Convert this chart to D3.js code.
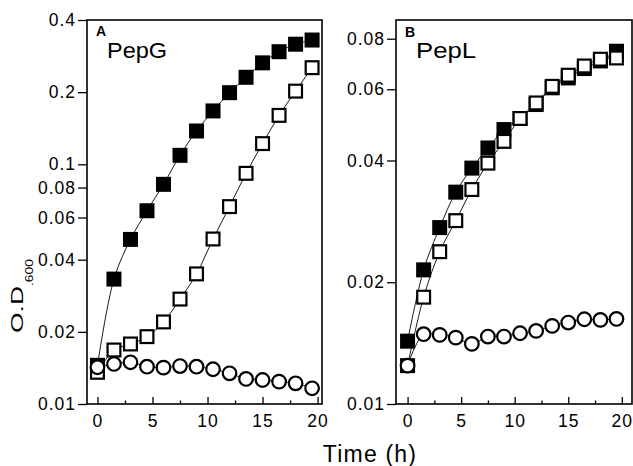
<!DOCTYPE html>
<html>
<head>
<meta charset="utf-8">
<script src="https://cdn.jsdelivr.net/npm/d3@7"></script>
<style>
  body { margin: 0; background: #fff; }
  svg { display: block; font-family: "Liberation Sans", Arial, sans-serif; }
  .axis text { font-size: 17.5px; letter-spacing: 1px; fill: #000; }
  .axis line { stroke: #000; stroke-width: 1.3; }
  .axis path { display: none; }
</style>
</head>
<body>
<svg width="633" height="466"></svg>
<script>
// sampling times (h)
const times = [0, 1.5, 3, 4.5, 6, 7.5, 9, 10.5, 12, 13.5, 15, 16.5, 18, 19.5];

// panel A - PepG
const pepGFilled = [0.0145, 0.0332, 0.0486, 0.064, 0.0825, 0.109, 0.1377, 0.167, 0.199, 0.2307, 0.265, 0.295, 0.317, 0.33];
const pepGOpen   = [0.01356, 0.0168, 0.0178, 0.0191, 0.022, 0.0274, 0.0349, 0.0488, 0.0666, 0.0917, 0.122, 0.16, 0.202, 0.253];
const pepGCircle = [0.01423, 0.01469, 0.01493, 0.01431, 0.01418, 0.0144, 0.01431, 0.01396, 0.01343, 0.01272, 0.01259, 0.0124, 0.0122, 0.01163];

// panel B - PepL
const pepLFilled = [0.0143, 0.02146, 0.0273, 0.0334, 0.0383, 0.04295, 0.0477, 0.0508, 0.055, 0.0605, 0.064, 0.0675, 0.0705, 0.0745];
const pepLOpen   = [0.01244, 0.01837, 0.0238, 0.0284, 0.0339, 0.0394, 0.0446, 0.0508, 0.0555, 0.061, 0.065, 0.0685, 0.0712, 0.0717];
const pepLCircle = [0.01244, 0.01488, 0.01482, 0.01459, 0.01408, 0.01468, 0.01468, 0.01496, 0.01516, 0.0156, 0.0159, 0.0162, 0.01614, 0.01623];

const xTicks = [0, 5, 10, 15, 20];
const xMinorTicks = [2.5, 7.5, 12.5, 17.5];
const yTicksA = [0.01, 0.02, 0.04, 0.06, 0.08, 0.1, 0.2, 0.4];
const yTicksB = [0.01, 0.02, 0.04, 0.06, 0.08];

const svg = d3.select("svg");
const plotTop = 20, plotBottom = 404;

function drawPanel(p) {
    const x = d3.scaleLinear().domain(p.xDomain).range([p.left, p.right]);
    const y = d3.scaleLog().domain(p.yDomain).range([plotBottom, plotTop]);
    const g = svg.append("g");

    // y axis, ticks outward
    g.append("g")
        .attr("class", "axis")
        .attr("transform", `translate(${p.left},0)`)
        .call(d3.axisLeft(y)
                .tickValues(p.yTicks)
                .tickFormat(d3.format(""))
                .tickSize(9)
                .tickPadding(2));

    // x axis, ticks inward
    g.append("g")
        .attr("class", "axis")
        .attr("transform", `translate(0,${plotBottom})`)
        .call(d3.axisBottom(x)
                .tickValues(xTicks)
                .tickSize(-7)
                .tickPadding(11));
    g.append("g")
        .attr("class", "axis")
        .attr("transform", `translate(0,${plotBottom})`)
        .call(d3.axisBottom(x)
                .tickValues(xMinorTicks)
                .tickSize(-3.5)
                .tickFormat(""));

    // frame
    g.append("rect")
        .attr("x", p.left)
        .attr("y", plotTop)
        .attr("width", p.right - p.left)
        .attr("height", plotBottom - plotTop)
        .attr("fill", "none")
        .attr("stroke", "#000")
        .attr("stroke-width", 1.6);

    const line = d3.line()
        .x((d, i) => x(times[i]))
        .y(d => y(d))
        .curve(d3.curveCatmullRom);

    [p.filled, p.open, p.circle].forEach(s => {
        g.append("path")
            .attr("d", line(s))
            .attr("fill", "none")
            .attr("stroke", "#000")
            .attr("stroke-width", 0.9);
    });

    const sq = 12.8;
    g.selectAll(".filled")
        .data(p.filled)
        .enter().append("rect")
            .attr("x", (d, i) => x(times[i]) - sq / 2)
            .attr("y", d => y(d) - sq / 2)
            .attr("width", sq)
            .attr("height", sq)
            .attr("fill", "#000")
            .attr("stroke", "#000")
            .attr("stroke-width", 2.2);

    g.selectAll(".open")
        .data(p.open)
        .enter().append("rect")
            .attr("x", (d, i) => x(times[i]) - sq / 2)
            .attr("y", d => y(d) - sq / 2)
            .attr("width", sq)
            .attr("height", sq)
            .attr("fill", "#fff")
            .attr("stroke", "#000")
            .attr("stroke-width", 2.2);

    g.selectAll(".circ")
        .data(p.circle)
        .enter().append("circle")
            .attr("cx", (d, i) => x(times[i]))
            .attr("cy", d => y(d))
            .attr("r", 6.8)
            .attr("fill", "#fff")
            .attr("stroke", "#000")
            .attr("stroke-width", 2.2);

    // panel letter + name
    g.append("text")
        .attr("x", p.left + 9)
        .attr("y", p.letterY)
        .attr("font-size", 14)
        .attr("font-weight", "bold")
        .text(p.letter);
    g.append("text")
        .attr("x", p.left + 20)
        .attr("y", 58)
        .attr("font-size", 22)
        .attr("textLength", p.nameWidth)
        .attr("lengthAdjust", "spacingAndGlyphs")
        .text(p.name);
}

drawPanel({
    left: 87, right: 322,
    xDomain: [-0.95, 20.4],
    yDomain: [0.01, 0.4],
    yTicks: yTicksA,
    filled: pepGFilled, open: pepGOpen, circle: pepGCircle,
    letter: "A", letterY: 36, name: "PepG", nameWidth: 60
});

drawPanel({
    left: 396, right: 632,
    xDomain: [-1.08, 20.95],
    yDomain: [0.01, 0.089],
    yTicks: yTicksB,
    filled: pepLFilled, open: pepLOpen, circle: pepLCircle,
    letter: "B", letterY: 37, name: "PepL", nameWidth: 60
});

// axis titles
svg.append("text")
    .attr("x", 370)
    .attr("y", 462)
    .attr("text-anchor", "middle")
    .attr("font-size", 23)
    .attr("letter-spacing", 1.2)
    .text("Time (h)");

const yLab = svg.append("text")
    .attr("transform", "translate(23,333) rotate(-90)")
    .attr("font-size", 17);
yLab.append("tspan")
    .attr("textLength", 47)
    .attr("lengthAdjust", "spacingAndGlyphs")
    .text("O.D");
yLab.append("tspan")
    .attr("dy", 10)
    .attr("font-size", 10)
    .attr("textLength", 27)
    .attr("lengthAdjust", "spacingAndGlyphs")
    .text(".600");
</script>
</body>
</html>
